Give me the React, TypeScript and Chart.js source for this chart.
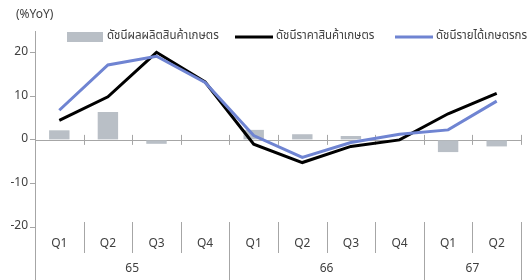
import React, { useEffect, useRef } from "react";
import { Chart, registerables } from "chart.js";

Chart.register(...registerables);

const quarterLabels = ["Q1", "Q2", "Q3", "Q4", "Q1", "Q2", "Q3", "Q4", "Q1", "Q2"];
const yearLabels = ["65", "66", "67"];
const yearSpans = [4, 4, 2];

const productionIndex = [2.2, 6.4, -0.9, 0, 2.3, 1.3, 0.9, 0, -2.8, -1.5];
const priceIndex = [4.5, 9.9, 20.1, 13.3, -1.0, -5.2, -1.5, 0.0, 6.0, 10.7];
const incomeIndex = [6.8, 17.2, 19.2, 13.2, 1.0, -4.0, -0.6, 1.3, 2.3, 8.9];

const seriesNames = ["ดัชนีผลผลิตสินค้าเกษตร", "ดัชนีราคาสินค้าเกษตร", "ดัชนีรายได้เกษตรกร"];
const unitLabel = "(%YoY)";
const yTicks = [-20, -10, 0, 10, 20];

const FONT = "Tahoma, 'Noto Sans Thai', 'Noto Sans', sans-serif";
const AXIS_COLOR = "#a6a6a6";
const TEXT_COLOR = "#404040";
const BAR_COLOR = "#b9bfc6";
const PRICE_COLOR = "#000000";
const INCOME_COLOR = "#6f84d2";

const legendStarts = [67, 235, 395];

const decorPlugin = {
  id: "decor",
  beforeDatasetsDraw(chart: any) {
    const { ctx, chartArea, scales } = chart;
    const x = scales.x;
    const y = scales.y;
    const y0 = y.getPixelForValue(0);
    ctx.save();
    ctx.strokeStyle = AXIS_COLOR;
    ctx.lineWidth = 1;
    ctx.beginPath();
    ctx.moveTo(chartArea.left, Math.round(y0) + 0.5);
    ctx.lineTo(chartArea.right, Math.round(y0) + 0.5);
    const n = quarterLabels.length;
    for (let i = 1; i <= n; i++) {
      const bx = i < n
        ? (x.getPixelForValue(i - 1) + x.getPixelForValue(i)) / 2
        : chartArea.right;
      ctx.moveTo(Math.round(bx) + 0.5, y0 - 5);
      ctx.lineTo(Math.round(bx) + 0.5, y0 + 5);
    }
    ctx.stroke();
    ctx.restore();
  },
  afterDraw(chart: any) {
    const { ctx, chartArea, scales, height } = chart;
    const x = scales.x;
    const n = quarterLabels.length;
    ctx.save();
    ctx.strokeStyle = AXIS_COLOR;
    ctx.lineWidth = 1;
    const sepTop = chartArea.bottom - 5;
    const sepBottom = chartArea.bottom + 26;
    ctx.beginPath();
    ctx.moveTo(chartArea.left + 0.5, chartArea.bottom);
    ctx.lineTo(chartArea.left + 0.5, height);
    let acc = 0;
    const yearEnds = yearSpans.map((s) => (acc += s));
    for (let i = 1; i <= n; i++) {
      const bx = i < n
        ? (x.getPixelForValue(i - 1) + x.getPixelForValue(i)) / 2
        : chartArea.right;
      const isYear = yearEnds.includes(i);
      ctx.moveTo(Math.round(bx) + 0.5, sepTop);
      ctx.lineTo(Math.round(bx) + 0.5, isYear ? height : sepBottom);
    }
    ctx.stroke();

    ctx.fillStyle = TEXT_COLOR;
    ctx.font = `12px ${FONT}`;
    ctx.textAlign = "center";
    ctx.textBaseline = "middle";
    let start = 0;
    yearLabels.forEach((lab, k) => {
      const end = start + yearSpans[k] - 1;
      const cx = (x.getPixelForValue(start) + x.getPixelForValue(end)) / 2;
      ctx.fillText(lab, cx, 270);
      start += yearSpans[k];
    });

    ctx.textAlign = "left";
    ctx.fillText(unitLabel, 16, 16);

    const ds = chart.data.datasets;
    const ly = 37;
    ctx.font = `11.5px ${FONT}`;
    ds.forEach((d: any, idx: number) => {
      let lx = legendStarts[idx];
      if (d.type === "bar") {
        ctx.fillStyle = d.backgroundColor;
        ctx.fillRect(lx, ly - 5, 36, 10);
        lx += 36 + 4;
      } else {
        ctx.strokeStyle = d.borderColor;
        ctx.lineWidth = 3;
        ctx.beginPath();
        ctx.moveTo(lx, ly);
        ctx.lineTo(lx + 38, ly);
        ctx.stroke();
        lx += 38 + 3;
      }
      ctx.fillStyle = TEXT_COLOR;
      ctx.textBaseline = "middle";
      ctx.fillText(d.label, lx, ly);
    });
    ctx.restore();
  },
};

export default function App() {
  const ref = useRef<HTMLCanvasElement | null>(null);
  useEffect(() => {
    if (!ref.current) return;
    const chart = new Chart(ref.current, {
      type: "bar",
      data: {
        labels: quarterLabels,
        datasets: [
          {
            type: "bar",
            label: seriesNames[0],
            data: productionIndex,
            backgroundColor: BAR_COLOR,
            categoryPercentage: 1,
            barPercentage: 0.42,
            order: 3,
          },
          {
            type: "line",
            label: seriesNames[1],
            data: priceIndex,
            borderColor: PRICE_COLOR,
            backgroundColor: PRICE_COLOR,
            borderWidth: 3,
            pointRadius: 0,
            tension: 0,
            order: 2,
          },
          {
            type: "line",
            label: seriesNames[2],
            data: incomeIndex,
            borderColor: INCOME_COLOR,
            backgroundColor: INCOME_COLOR,
            borderWidth: 3,
            pointRadius: 0,
            tension: 0,
            order: 1,
          },
        ] as any,
      },
      options: {
        animation: false,
        responsive: false,
        maintainAspectRatio: false,
        layout: { padding: { top: 31, right: 8, left: 0, bottom: 0 } },
        plugins: {
          legend: { display: false },
          tooltip: { enabled: false },
          title: { display: false },
        },
        scales: {
          x: {
            grid: { display: false, drawTicks: false },
            border: { display: false },
            ticks: {
              color: TEXT_COLOR,
              font: { family: FONT, size: 12 },
              padding: 10,
              maxRotation: 0,
              autoSkip: false,
            },
            afterFit: (s: any) => {
              s.height = 53;
            },
          },
          y: {
            min: -20,
            max: 25,
            afterBuildTicks: (s: any) => {
              s.ticks = yTicks.map((v) => ({ value: v }));
            },
            grid: {
              drawOnChartArea: false,
              drawTicks: true,
              tickLength: 5,
              color: AXIS_COLOR,
            },
            border: { display: true, color: AXIS_COLOR },
            ticks: {
              color: TEXT_COLOR,
              font: { family: FONT, size: 12 },
              padding: 2,
            },
            afterFit: (s: any) => {
              s.width = 35;
            },
          },
        },
      },
      plugins: [decorPlugin],
    });
    return () => chart.destroy();
  }, []);
  return (
    <div style={{ position: "fixed", left: 0, top: 0, width: 529, height: 280, background: "#fff" }}>
      <canvas ref={ref} width={529} height={280} style={{ width: 529, height: 280 }} />
    </div>
  );
}
